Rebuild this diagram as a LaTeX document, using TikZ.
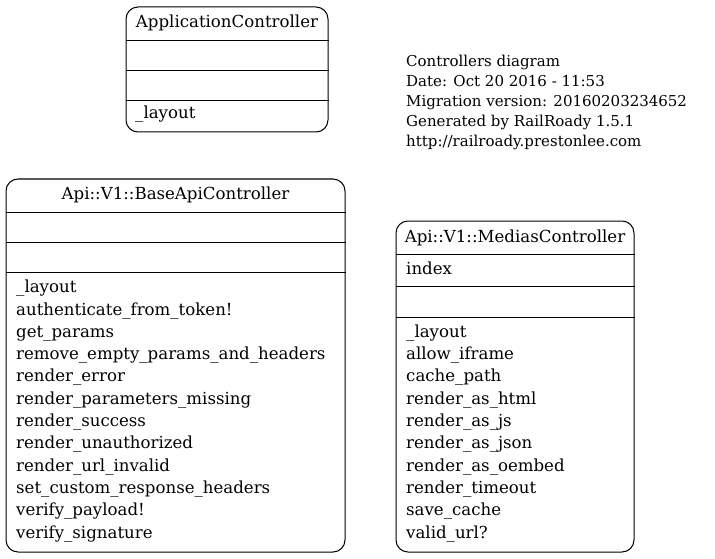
\documentclass[tikz,border=0pt]{standalone}
\usepackage{fontspec}
\setmainfont{DejaVu Serif}
\usetikzlibrary{positioning}

\begin{document}
\begin{tikzpicture}[x=1pt, y=-1pt,
  font=\fontsize{16.6}{22.3}\selectfont,
  ctrlbox/.style={rectangle, draw=black, line width=1pt, rounded corners=12pt, inner sep=0pt},
  ctrltitle/.style={anchor=base, inner sep=0pt},
  ctrlrows/.style={anchor=base west, inner sep=0pt, align=left},
  divider/.style={draw=black, line width=0.9pt}
]
\useasboundingbox (0,0) rectangle (715,559);

% ApplicationController
\node[ctrlbox, minimum width=202pt, minimum height=125pt] (appctrl) at (227,69.5) {};
\node[ctrltitle] (apptitle) at (227,28) {ApplicationController};
\draw[divider] (appctrl.west |- 0,40) -- (appctrl.east |- 0,40);
\draw[divider] (appctrl.west |- 0,70) -- (appctrl.east |- 0,70);
\draw[divider] (appctrl.west |- 0,100) -- (appctrl.east |- 0,100);
\node[ctrlrows] (appmeth) at (135,119) {\_layout};

% diagram info (base = last line)
\node[ctrlrows, font=\fontsize{15}{20.1}\selectfont] (info) at (406,147) {Controllers diagram\\
  Date: Oct 20 2016 - 11:53\\
  Migration version: 20160203234652\\
  Generated by RailRoady 1.5.1\\
  http://railroady.prestonlee.com};

% Api::V1::BaseApiController
\node[ctrlbox, minimum width=339pt, minimum height=373pt] (basectrl) at (175.5,365.5) {};
\node[ctrltitle] (basetitle) at (175.5,200) {Api::V1::BaseApiController};
\draw[divider] (basectrl.west |- 0,212) -- (basectrl.east |- 0,212);
\draw[divider] (basectrl.west |- 0,242) -- (basectrl.east |- 0,242);
\draw[divider] (basectrl.west |- 0,272) -- (basectrl.east |- 0,272);
\node[ctrlrows] (basemeth) at (16,538) {\_layout\\
  authenticate\_from\_token!\\
  get\_params\\
  remove\_empty\_params\_and\_headers\\
  render\_error\\
  render\_parameters\_missing\\
  render\_success\\
  render\_unauthorized\\
  render\_url\_invalid\\
  set\_custom\_response\_headers\\
  verify\_payload!\\
  verify\_signature};

% Api::V1::MediasController
\node[ctrlbox, minimum width=238pt, minimum height=331pt] (mediactrl) at (515,386.5) {};
\node[ctrltitle] (mediatitle) at (515,242) {Api::V1::MediasController};
\draw[divider] (mediactrl.west |- 0,254) -- (mediactrl.east |- 0,254);
\draw[divider] (mediactrl.west |- 0,286) -- (mediactrl.east |- 0,286);
\draw[divider] (mediactrl.west |- 0,317) -- (mediactrl.east |- 0,317);
\node[ctrlrows] (mediaattr) at (406,274) {index};
\node[ctrlrows] (mediameth) at (406,538) {\_layout\\
  allow\_iframe\\
  cache\_path\\
  render\_as\_html\\
  render\_as\_js\\
  render\_as\_json\\
  render\_as\_oembed\\
  render\_timeout\\
  save\_cache\\
  valid\_url?};
\end{tikzpicture}
\end{document}
